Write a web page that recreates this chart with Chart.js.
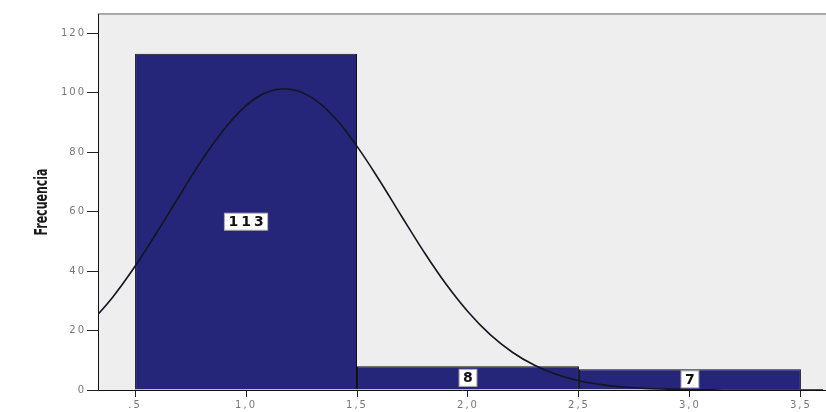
<!DOCTYPE html>
<html>
<head>
<meta charset="utf-8">
<script src="https://cdn.jsdelivr.net/npm/chart.js@4.4.1/dist/chart.umd.min.js"></script>
<style>
  html, body { margin: 0; padding: 0; background: #ffffff; }
  #wrap { width: 826px; height: 412px; }
</style>
</head>
<body>
<div id="wrap"><canvas id="histChart" width="826" height="412"></canvas></div>
<script>
// histogram bins (centre of each bin) and their counts
const binCenters = [1, 2, 3];
const binCounts = [113, 8, 7];

// fitted normal curve, sampled every 0.1
const curveX = [0.3, 0.4, 0.5, 0.6, 0.7, 0.8, 0.9, 1.0, 1.1, 1.2, 1.3, 1.4, 1.5, 1.6, 1.7, 1.8, 1.9,
  2.0, 2.1, 2.2, 2.3, 2.4, 2.5, 2.6, 2.7, 2.8, 2.9, 3.0, 3.1, 3.2, 3.3, 3.4, 3.5, 3.6];
const curveY = [22.7, 31.3, 41.6, 53.2, 65.3, 77.2, 87.5, 95.6, 100.3, 101.1, 98.1, 91.5, 81.9, 70.6, 58.5, 46.6, 35.7,
  26.3, 18.6, 12.7, 8.3, 5.2, 3.1, 1.8, 1.0, 0.5, 0.3, 0.1, 0.05, 0, 0, 0, 0, 0];

// axis ticks
const xTickValues = [0.5, 1.0, 1.5, 2.0, 2.5, 3.0, 3.5];
const xTickLabels = [".5", "1,0", "1,5", "2,0", "2,5", "3,0", "3,5"];
const yTickValues = [0, 20, 40, 60, 80, 100, 120];
const yTickLabels = ["0", "20", "40", "60", "80", "100", "120"];
const yAxisTitle = "Frecuencia";

const plotBackground = {
  id: "plotBackground",
  beforeDraw(chart) {
    const { ctx, chartArea: a } = chart;
    ctx.save();
    ctx.fillStyle = "#eeeeee";
    ctx.fillRect(a.left, a.top, a.right - a.left, a.bottom - a.top);
    ctx.strokeStyle = "#a9a9a9";
    ctx.lineWidth = 2;
    ctx.beginPath();
    ctx.moveTo(a.left, a.top);
    ctx.lineTo(a.right, a.top);
    ctx.stroke();
    ctx.restore();
  }
};

// narrow, rotated axis title centred on the y scale
const narrowTitle = {
  id: "narrowTitle",
  afterDraw(chart) {
    const { ctx } = chart;
    const y = chart.scales.y;
    ctx.save();
    ctx.letterSpacing = "0px";
    ctx.translate(42, (y.top + y.bottom) / 2);
    ctx.rotate(-Math.PI / 2);
    ctx.scale(0.68, 1);
    ctx.font = "bold 18px 'DejaVu Sans Condensed', 'DejaVu Sans'";
    ctx.fillStyle = "#1a1a1a";
    ctx.textAlign = "center";
    ctx.textBaseline = "middle";
    ctx.fillText(yAxisTitle, 0, 0);
    ctx.restore();
  }
};

// white boxes with the count in the middle of each bar
const barLabels = {
  id: "barLabels",
  afterDatasetsDraw(chart) {
    const ctx = chart.ctx;
    const meta = chart.getDatasetMeta(1);
    ctx.save();
    ctx.font = "bold 14px 'DejaVu Sans'";
    ctx.letterSpacing = "3px";
    ctx.textAlign = "center";
    ctx.textBaseline = "middle";
    meta.data.forEach((bar, i) => {
      const text = String(binCounts[i]);
      const cy = (bar.y + bar.base) / 2;
      const w = ctx.measureText(text).width + 5;
      const h = 17;
      ctx.fillStyle = "#ffffff";
      ctx.fillRect(bar.x - w / 2, cy - h / 2, w, h);
      ctx.strokeStyle = "#b0b0b0";
      ctx.lineWidth = 1;
      ctx.strokeRect(bar.x - w / 2, cy - h / 2, w, h);
      ctx.fillStyle = "#111111";
      ctx.fillText(text, bar.x + 1.5, cy + 1);
    });
    ctx.restore();
    // tick labels (ticks.z = 1) are drawn after this point, spaced out
    ctx.letterSpacing = "2px";
  },
  afterDraw(chart) {
    chart.ctx.letterSpacing = "0px";
  }
};

const ctx = document.getElementById("histChart").getContext("2d");

new Chart(ctx, {
  type: "bar",
  data: {
    datasets: [
      {
        type: "line",
        order: 0,
        data: curveX.map((x, i) => ({ x: x, y: curveY[i] })),
        borderColor: "#151520",
        borderWidth: 1.6,
        pointRadius: 0,
        tension: 0.4,
        fill: false
      },
      {
        type: "bar",
        order: 1,
        data: binCenters.map((x, i) => ({ x: x, y: binCounts[i] })),
        backgroundColor: "#25257a",
        borderColor: "#111111",
        borderWidth: 1,
        // the bar ruler also counts the 0.5 tick spacing, so twice that fills a whole bin
        barPercentage: 2,
        categoryPercentage: 1
      }
    ]
  },
  options: {
    responsive: false,
    animation: false,
    layout: { padding: { left: 0, top: 14, right: 0, bottom: 0 } },
    plugins: {
      legend: { display: false },
      tooltip: { enabled: false }
    },
    scales: {
      x: {
        type: "linear",
        min: 0.333,
        max: 3.613,
        offset: false,
        afterBuildTicks: (scale) => { scale.ticks = xTickValues.map((v) => ({ value: v })); },
        afterFit: (scale) => { scale.height = 22; },
        grid: { offset: false, drawOnChartArea: false, drawTicks: true, tickLength: 7, tickColor: "#222222" },
        border: { display: true, color: "#111111", width: 1 },
        ticks: {
          z: 1,
          padding: 2,
          color: "#777777",
          font: { family: "'DejaVu Sans'", size: 10 },
          maxRotation: 0,
          callback: (value, index) => xTickLabels[index]
        }
      },
      y: {
        min: 0,
        max: 126.4,
        afterBuildTicks: (scale) => { scale.ticks = yTickValues.map((v) => ({ value: v })); },
        afterFit: (scale) => { scale.width = 98; },
        grid: { drawOnChartArea: false, drawTicks: true, tickLength: 11, tickColor: "#222222" },
        border: { display: true, color: "#111111", width: 1 },
        ticks: {
          z: 1,
          padding: 1,
          color: "#777777",
          font: { family: "'DejaVu Sans'", size: 10 },
          callback: (value, index) => yTickLabels[index]
        }
      }
    }
  },
  plugins: [plotBackground, barLabels, narrowTitle]
});
</script>
</body>
</html>
